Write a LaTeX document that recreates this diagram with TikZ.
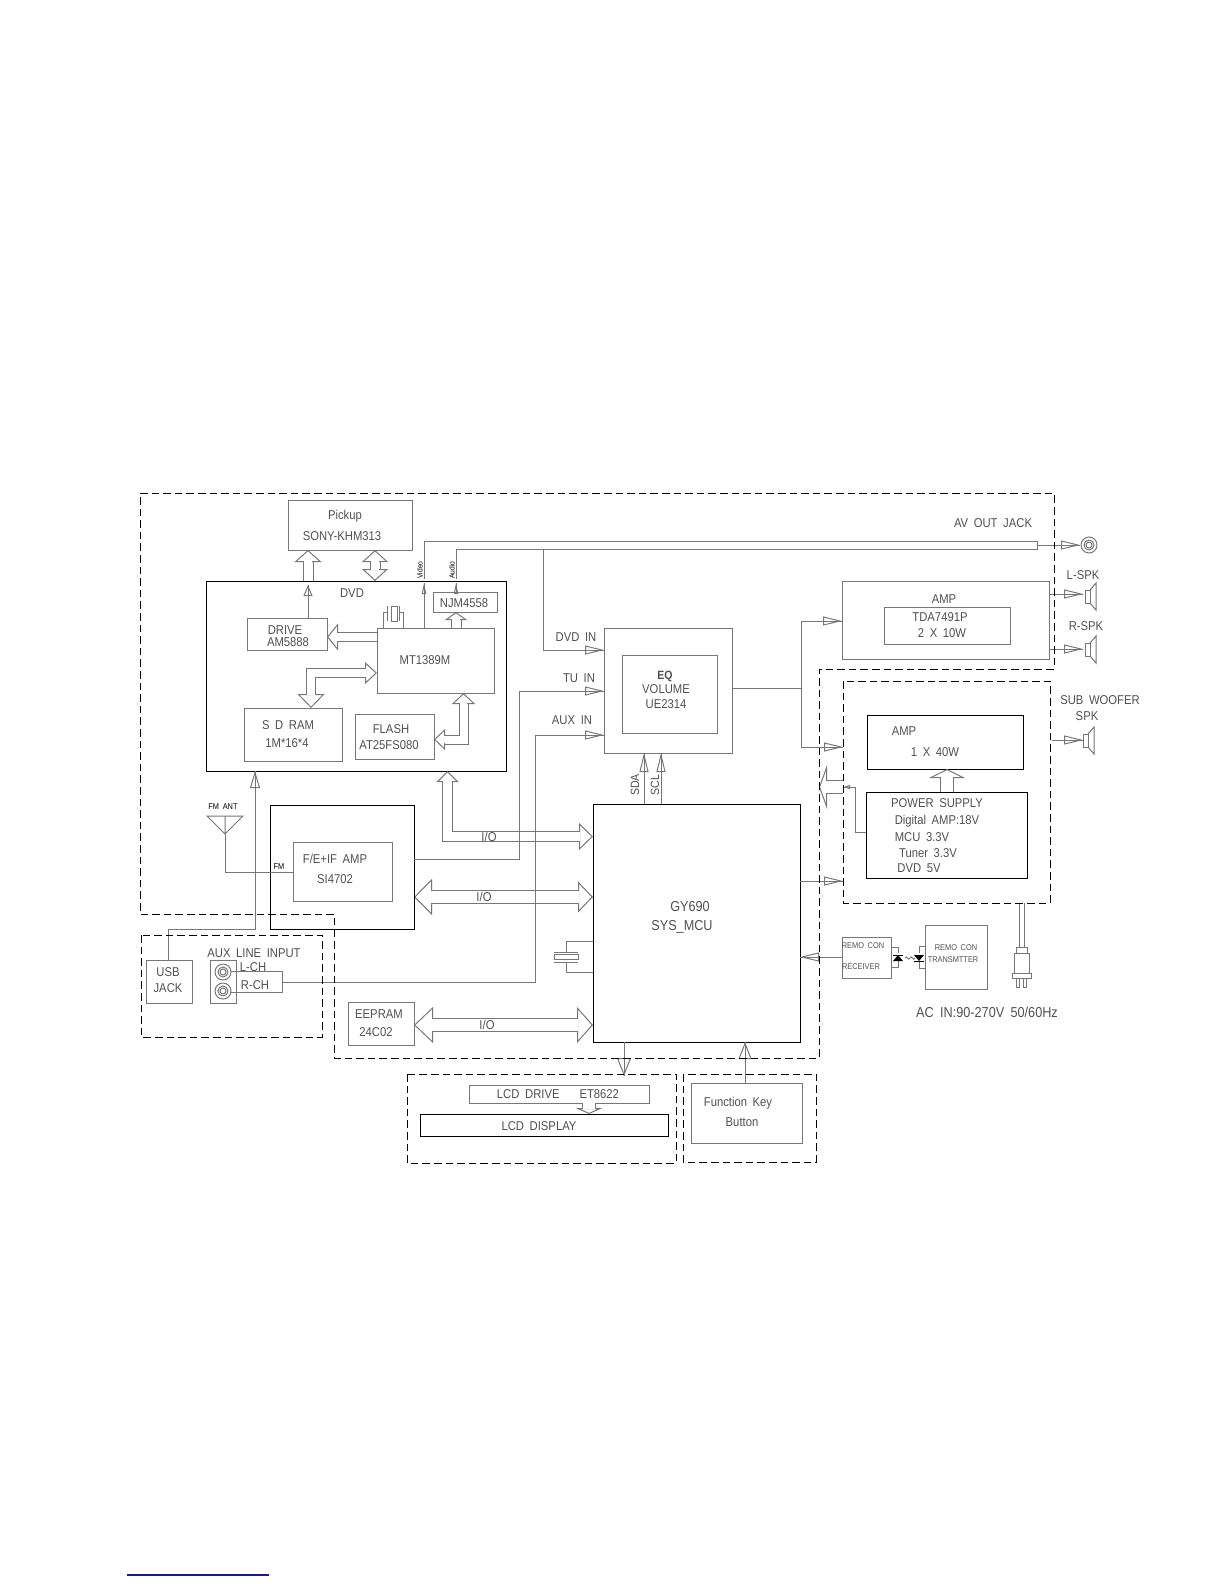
\documentclass[tikz,border=0pt]{standalone}
\usepackage{fontspec}
\setmainfont[WordSpace=1.8, FakeStretch=0.88]{Liberation Sans}
\usetikzlibrary{arrows.meta, fit, calc}
\definecolor{cline}{HTML}{777777}
\definecolor{ctext}{HTML}{505050}
\definecolor{cblue}{HTML}{1A1A8C}
\tikzset{
  every node/.style={inner sep=0pt, outer sep=0pt},
  box/.style={draw=cline, line width=.5pt, fit={#1}},
  blk/.style={draw=black, line width=.5pt, fit={#1}},
  lab/.style={font=\fontsize{6.4}{8}\selectfont, text=ctext, align=center},
  labw/.style={lab, font=\fontsize{7.2}{8}\selectfont},
  tiny/.style={font=\fontsize{4.2}{5}\selectfont, text=black},
  group/.style={draw=black, line width=.46pt, dash pattern=on 3.8pt off 2pt},
  wire/.style={draw=cline, line width=.5pt},
  sig/.style 2 args={wire, postaction={draw, -{Triangle[open, length=#1, width=#2]}}},
  sigm/.style={sig={9.5pt}{4.5pt}},
  bus/.style n args={3}{draw=cline, line width=.5pt, double, double distance=#1,
    -{Triangle[open, length=#3, width=#2]},
    postaction={draw=white, line width=(#1-.15pt)/2, double distance=0pt, arrows=-,
      shorten >=#3-.7pt}},
  bibus/.style n args={5}{draw=cline, line width=.5pt, double, double distance=#1,
    {Triangle[open, length=#3, width=#2]}-{Triangle[open, length=#5, width=#4]},
    postaction={draw=white, line width=(#1-.15pt)/2, double distance=0pt, arrows=-,
      shorten <=#3-.7pt, shorten >=#5-.7pt}},
}
\begin{document}
\begin{tikzpicture}[x=.5pt, y=-.5pt]
  \useasboundingbox (0,0) rectangle (1224,1584);

  % dvd section
  \node[box={(288,500)(412,550)}] (pickup) {};
  \node[blk={(206,581)(506,771)}] (dvd) {};
  \node[box={(247,618)(327,650)}] (drive) {};
  \node[box={(377,628)(494,693)}] (mtk) {};
  \node[box={(433,592)(497,612)}] (njm) {};
  \node[box={(244,708)(342,761)}] (sdram) {};
  \node[box={(355,714)(434,759)}] (flash) {};
  \node[lab] (tpick) at (345,516) {Pickup};
  \node[lab] (tsony) at (342,536) {SONY-KHM313};
  \node[lab] (tdvd) at (352,593) {DVD};
  \node[lab] (tdrv) at (285,630) {DRIVE};
  \node[lab] (tdrv2) at (288,642) {AM5888};
  \node[lab] (tnjm) at (464,603) {NJM4558};
  \node[lab] (tmtk) at (425,660) {MT1389M};
  \node[lab] (tsd) at (288,725) {S D RAM};
  \node[lab] (tsd2) at (287,743) {1M*16*4};
  \node[lab] (tfl) at (391,729) {FLASH};
  \node[lab] (tfl2) at (389,745) {AT25FS080};
  \node[tiny, font=\fontsize{3.8}{4}\selectfont, rotate=90] (tvideo) at (420,570) {Video};
  \node[tiny, font=\fontsize{3.8}{4}\selectfont, rotate=90] (taudio) at (452,570) {Audio};

  \draw[bus={4.5pt}{13.5pt}{6pt}] (dvd.north -| 308,0) -- (pickup.south -| 308,0);
  \draw[bibus={4.5pt}{13pt}{6pt}{13pt}{6pt}] (pickup.south -| 375,0) -- (dvd.north -| 375,0);
  \draw[sig={5.5pt}{4.5pt}] (drive.north -| 308,0) -- (308,585);
  \draw[bus={4pt}{13.5pt}{5.5pt}] (mtk.west |- 0,637) -- (drive.east |- 0,637);
  \draw[bus={4.5pt}{11pt}{4pt}] (mtk.north -| 456,0) -- (njm.south -| 456,0);
  \draw[bibus={4.2pt}{11pt}{6pt}{13.5pt}{7pt}] (mtk.west |- 0,673) -| (sdram.north -| 311,0);
  \draw[bibus={4pt}{11.5pt}{5.5pt}{10.5pt}{5.5pt}] (mtk.south -| 463.5,0) |- (flash.east |- 0,739.5);
  % crystal
  \draw[wire] (mtk.north -| 383,0) |- (387,612) (mtk.north -| 403,0) |- (399,612)
    (387,606) -- (387,621) (399,606) -- (399,621) (391,606) rectangle (397,621);

  % av lines
  \coordinate (avend) at (1037,545);
  \draw[wire] (mtk.north -| 424,0) -- (424,594);
  \draw[sig={5.5pt}{2.2pt}] (424,594) -- (424,583);
  \draw[wire] (424,579) |- (1037,541) -- (1037,549) -- (456,549) -- (456,579);
  \draw[sig={5.5pt}{2.2pt}] (njm.north -| 456,0) -- (456,583);
  \draw[sigm] (avend) -- (1080,545);
  \foreach \r in {8,5,3} \draw[wire] (1089,545) circle (\r);
  \node[lab] (tav) at (993,523) {AV OUT JACK};

  % eq
  \node[box={(604,628)(732,753)}] (eqo) {};
  \node[box={(622,655)(717,733)}] (eqi) {};
  \node[lab, font=\fontsize{6}{8}\selectfont\bfseries] (teq) at (665,676) {EQ};
  \node[lab] (tvol) at (666,689) {VOLUME};
  \node[lab] (tue) at (666,704) {UE2314};
  \draw[sigm] (543,549) |- (eqo.west |- 0,650);
  \node[lab] (tdin) at (576,637) {DVD IN};
  \node[lab] (ttin) at (579,678) {TU IN};
  \node[lab] (tain) at (572,720) {AUX IN};

  % amps
  \node[box={(842,581)(1049,659)}] (amp) {};
  \node[box={(884,607)(1010,644)}] (tda) {};
  \node[lab] (tamp) at (944,599) {AMP};
  \node[lab] (ttda) at (940,617) {TDA7491P};
  \node[lab] (t2x) at (942,633) {2 X 10W};
  \node[blk={(867,715)(1023,769)}] (sub) {};
  \node[lab] (tsub) at (904,731) {AMP};
  \node[lab] (t1x) at (935,752) {1 X 40W};
  \node[blk={(866,792)(1027,878)}] (psu) {};
  \node[lab] (tpsu) at (937,803) {POWER SUPPLY};
  \node[lab] (tp1) at (937,821) {Digital AMP:18V};
  \node[lab] (tp2) at (922,837) {MCU 3.3V};
  \node[lab] (tp3) at (928,853) {Tuner 3.3V};
  \node[lab] (tp4) at (919,868) {DVD 5V};
  \draw[wire] (eqo.east |- 0,688) -- (801,688);
  \draw[sigm] (801,688) |- (amp.west |- 0,621);
  \draw[sigm] (801,688) |- (843,747);
  \draw[bus={6pt}{18pt}{4.5pt}] (psu.north -| 947,0) -- (sub.south -| 947,0);
  \coordinate (pwrout) at (843,787);
  \draw[bus={6pt}{22pt}{4pt}] (pwrout) -- (819,787);
  \draw[sig={3.5pt}{2pt}] (psu.west |- 0,832) -| (855,787) -- (pwrout);

  % speakers
  \draw[sigm] (amp.east |- 0,594) -- (1083,594);
  \draw[sigm] (amp.east |- 0,649) -- (1083,649);
  \coordinate (subout) at (1052,740);
  \draw[sigm] (subout) -- (1083,740);
  \foreach \x/\y in {1085/596, 1085/649, 1083/740} {
    \draw[wire] (\x,\y-6) rectangle (\x+5,\y+7);
    \draw[wire] (\x+5,\y-6) -- (\x+11,\y-13) -- (\x+11,\y+14) -- (\x+5,\y+7);
  }
  \node[lab] (tl) at (1083,575) {L-SPK};
  \node[lab] (tr) at (1086,626) {R-SPK};
  \node[lab] (tw) at (1100,700) {SUB WOOFER};
  \node[lab] (ts) at (1087,716) {SPK};

  % mcu
  \node[blk={(593,804)(800,1042)}] (mcu) {};
  \node[labw] (tgy) at (690,907) {GY690};
  \node[labw] (tsys) at (682,927) {SYS\_MCU};
  \draw[sigm] (mcu.north -| 644,0) -- (eqo.south -| 644,0);
  \draw[sigm] (mcu.north -| 661,0) -- (eqo.south -| 661,0);
  \node[lab, font=\fontsize{6}{7}\selectfont, rotate=90] (tsda) at (635,785) {SDA};
  \node[lab, font=\fontsize{6}{7}\selectfont, rotate=90] (tscl) at (655,785) {SCL};
  \draw[sigm] (mcu.east |- 0,881) -- (843,881);
  \draw[wire] (mcu.west |- 0,941) -| (566,952) (mcu.west |- 0,972) -| (566,962)
    (554,952) -- (578,952) (554,962) -- (578,962) (554,954) rectangle (578,959);
  \draw[bibus={4.2pt}{11pt}{5.5pt}{13.5pt}{7pt}] (dvd.south -| 447.5,0) |- (mcu.west |- 0,836.5);
  \draw[bibus={6pt}{18pt}{9pt}{15.5pt}{7.5pt}] (414,897) -- (mcu.west |- 0,897);
  \node[box={(348,1002)(414,1045)}] (eep) {};
  \node[lab] (te1) at (379,1014) {EEPRAM};
  \node[lab] (te2) at (376,1032) {24C02};
  \draw[bibus={6pt}{18pt}{9.5pt}{18pt}{8pt}] (eep.east |- 0,1025) -- (mcu.west |- 0,1025);

  % tuner
  \node[blk={(270,805)(414,929)}] (fmo) {};
  \node[box={(293,842)(392,901)}] (fmi) {};
  \node[lab] (tf1) at (335,859) {F/E+IF AMP};
  \node[lab] (tf2) at (335,879) {SI4702};
  \node[tiny] (tfm) at (279,867) {FM};
  \node[tiny] (tant) at (223,807) {FM ANT};
  \coordinate (ant) at (225,834);
  \draw[wire] (207,816) -- (243,816) -- (ant) -- cycle (225,816) -- (ant);
  \draw[wire] (ant) |- (fmi.west |- 0,872);
  \draw[sigm] (fmo.east |- 0,859) -| (519,691) -- (eqo.west |- 0,691);

  % usb and aux
  \node[box={(146,960)(192,1003)}] (usb) {};
  \node[lab] (tusb) at (168,972) {USB};
  \node[lab] (tusb2) at (168,988) {JACK};
  \draw[sig={8.5pt}{5pt}] (usb.north -| 168,0) |- (255,929) -- (dvd.south -| 255,0);
  \node[lab] (taux) at (254,953) {AUX LINE INPUT};
  \node[box={(210,960)(236,1003)}] (plate) {};
  \foreach \y in {972,991} \foreach \r in {8,5,3} \draw[wire] (223,\y) circle (\r);
  \node[lab] (tlc) at (253,967) {L-CH};
  \node[lab] (trc) at (255,985) {R-CH};
  \draw[wire] (231,971) -| (282,992) -- (231,992);
  \draw[sigm] (282,982) -| (535,735) -- (eqo.west |- 0,735);

  % i/o labels over the crossing wires
  \node[lab] (tio1) at (489,837) {I/O};
  \node[lab] (tio2) at (484,897) {I/O};
  \node[lab] (tio3) at (487,1025) {I/O};

  % remote
  \node[box={(842,937)(891,978)}] (recv) {};
  \node[tiny, text=ctext] (tr1) at (863,946) {REMO CON};
  \node[tiny, text=ctext] (tr2) at (861,967) {RECEIVER};
  \node[box={(925,925)(987,989)}] (trans) {};
  \node[tiny, text=ctext] (tt1) at (956,948) {REMO CON};
  \node[tiny, text=ctext] (tt2) at (953,960) {TRANSMTTER};
  \draw[sigm] (recv.west |- 0,957) -- (mcu.east |- 0,957);
  \draw[wire] (recv.east |- 0,947) -| (898,953) (recv.east |- 0,967) -| (898,961);
  \draw[wire] (trans.west |- 0,946) -| (919,953) (trans.west |- 0,968) -| (919,961);
  \fill (893,961) -- (903,961) -- (898,955) -- cycle;
  \draw[line width=.4pt] (893,955) -- (903,955);
  \fill (914,955) -- (924,955) -- (919,961) -- cycle;
  \draw[line width=.4pt] (914,961) -- (924,961);
  \draw[wire] (905,958) .. controls (907,954) and (908,962) .. (910,958)
    .. controls (912,954) and (913,962) .. (915,958);

  % plug
  \draw[wire] (1019,903) -- (1019,947) (1024,903) -- (1024,947);
  \draw[wire] (1016,947) rectangle (1027,953) (1014,953) rectangle (1029,973)
    (1012,973) rectangle (1031,978) (1016,978) rectangle (1019,987) (1023,978) rectangle (1026,987);
  \node[labw] (tac) at (987,1012) {AC IN:90-270V 50/60Hz};

  % lcd
  \node[box={(469,1085)(649,1103)}] (lcdd) {};
  \node[lab] (tlcdd) at (558,1094) {LCD DRIVE\hspace{10pt}ET8622};
  \node[blk={(420,1114)(668,1136)}] (lcd) {};
  \node[lab] (tlcd) at (539,1126) {LCD DISPLAY};
  \draw[bus={6pt}{13.5pt}{3pt}] (lcdd.south -| 589,0) -- (lcd.north -| 589,0);
  \draw[sig={9pt}{7pt}] (mcu.south -| 624,0) -- (624,1076);

  % keys
  \node[box={(691,1083)(802,1143)}] (key) {};
  \node[lab] (tk1) at (738,1103) {Function Key};
  \node[lab] (tk2) at (742,1122) {Button};
  \draw[sig={8.5pt}{6.5pt}] (key.north -| 745,0) -- (mcu.south -| 745,0);

  % dashed groups
  \draw[group] (140,493) -- (1054,493) -- (1054,669) -- (819,669) -- (819,1058) -- (334,1058)
    -- (334,914) -- (140,914) -- cycle;
  \draw[group] (141,935) rectangle (322,1037);
  \draw[group] (843,681) rectangle (1050,903);
  \draw[group] (407,1074) rectangle (676,1163);
  \draw[group] (683,1074) rectangle (816,1162);

  \draw[cblue, line width=.7pt] (127,1575) -- (269,1575);
\end{tikzpicture}
\end{document}
